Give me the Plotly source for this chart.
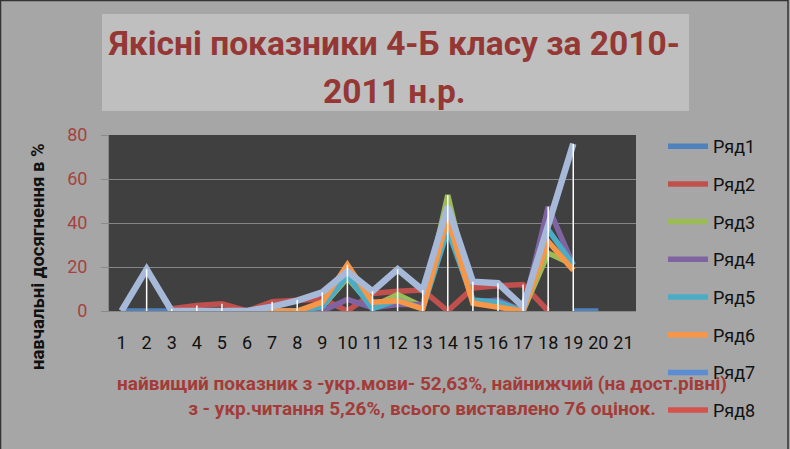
import plotly.graph_objects as go

# ---------------- data ----------------
categories = list(range(1, 22))
N = None
ryad1 = [0, 0, 0, N, N, N, N, N, N, N, N, N, N, N, N, N, N, N, 0, 0, N]
ryad2 = [N, N, 1, 2.5, 3.3, 0, 4.2, 5, 5.5, 0, 8, 9, 9.5, 0, 10.5, 11.5, 12, 0, N, N, N]
ryad3 = [N, N, 0, 0, 0, 0, 0, 0, 2, 15, 2, 7.5, 2, 52.63, 4, 3, 0, 26.32, 21, N, N]
ryad4 = [N, N, 0, 0, 0, 0, 0, 0, 0, 5.26, 1.5, 3, 3, 42, 4, 5, 0, 47.37, 21, N, N]
ryad5 = [N, N, 0, 0, 0, 0, 0, 0, 2, 16, 1, 5, 1, 36.84, 5, 4, 0, 36.84, 21, N, N]
ryad6 = [N, N, 0, 0, 0, 0, 0, 0, 4, 21.05, 4, 4.7, 1, 42.1, 3.5, 2, 0, 31.58, 18.5, N, N]
ryad7 = [N] * 21
ryad8 = [N] * 21
total = [0, 19, 0, 0, 0, 0, 2, 4.7, 8.5, 18, 9, 19, 9.5, 47.37, 13.3, 12.6, 2, 39, 76, N, N]

series_names = ["Ряд1", "Ряд2", "Ряд3", "Ряд4", "Ряд5", "Ряд6", "Ряд7", "Ряд8"]
series_values = [ryad1, ryad2, ryad3, ryad4, ryad5, ryad6, ryad7, ryad8]
series_colors = ["#4F81BD", "#C0504D", "#9BBB59", "#8064A2", "#4BACC6", "#F79646",
                 "#5B8DD3", "#D4524E"]
total_color = "#A7B9D9"

y_ticks = [0, 20, 40, 60, 80]

title_lines = ["Якісні показники 4-Б класу за 2010-", "2011 н.р."]
y_title = "навчальні досягнення в %"
note_text = ("найвищий показник з -укр.мови- 52,63%, найнижчий (на дост.рівні)<br>"
             "з - укр.читання 5,26%, всього виставлено 76 оцінок.")

# ---------------- geometry (pixels) ----------------
W_FIG, H_FIG = 790, 449
L, R, T, B = 109, 636, 135, 311


def pxx(x):
    return (x - L) / (R - L)


def pxy(y):
    return (B - y) / (B - T)


FONT = "Roboto, Open Sans, sans-serif"
DARK_RED = "#953735"

fig = go.Figure()

for name, vals, col in zip(series_names, series_values, series_colors):
    fig.add_trace(go.Scatter(
        x=categories, y=vals, name=name, mode="lines",
        line=dict(color=col, width=5.5), connectgaps=False,
        legendgroup=name, hoverinfo="skip",
    ))

fig.add_trace(go.Scatter(
    x=categories, y=total, name="", mode="lines",
    line=dict(color=total_color, width=6.5), showlegend=False, hoverinfo="skip",
))

# drop lines from the highest point of each category down to the axis
all_series = series_values + [total]
dx, dy = [], []
for i, c in enumerate(categories):
    vals = [s[i] for s in all_series if s[i] is not None]
    if vals and max(vals) > 0:
        dx += [c, c, None]
        dy += [0, max(vals), None]
fig.add_trace(go.Scatter(
    x=dx, y=dy, mode="lines", line=dict(color="white", width=1.5),
    showlegend=False, hoverinfo="skip",
))

shapes = [
    dict(type="rect", xref="paper", yref="paper",
         x0=pxx(102), x1=pxx(689), y0=pxy(111), y1=pxy(14),
         fillcolor="#BFBFBF", line=dict(width=0), layer="below"),
    dict(type="rect", xref="paper", yref="paper",
         x0=pxx(0.5), x1=pxx(788), y0=pxy(452), y1=pxy(0.5),
         fillcolor="rgba(0,0,0,0)", line=dict(color="#333333", width=1.5)),
]

annotations = [
    dict(text=title_lines[0], x=pxx(394), y=pxy(43), xref="paper", yref="paper",
         showarrow=False, xanchor="center", yanchor="middle",
         font=dict(family=FONT, size=33.5, color=DARK_RED, weight="bold")),
    dict(text=title_lines[1], x=pxx(394), y=pxy(91), xref="paper", yref="paper",
         showarrow=False, xanchor="center", yanchor="middle",
         font=dict(family=FONT, size=33.5, color=DARK_RED, weight="bold")),
    dict(text=y_title, x=pxx(38), y=pxy(257), xref="paper", yref="paper",
         showarrow=False, textangle=-90, xanchor="center", yanchor="middle",
         font=dict(family=FONT, size=18.5, color="#111111", weight="bold")),
    dict(text=note_text, x=pxx(422), y=pxy(396), xref="paper", yref="paper",
         showarrow=False, xanchor="center", yanchor="middle", align="center",
         font=dict(family=FONT, size=19, color="#A33B39", weight="bold")),
]

fig.update_layout(
    width=W_FIG, height=H_FIG,
    margin=dict(l=L, r=W_FIG - R, t=T, b=H_FIG - B, pad=0, autoexpand=False),
    paper_bgcolor="#A6A6A6", plot_bgcolor="#404040",
    shapes=shapes, annotations=annotations,
    showlegend=True,
    legend=dict(
        xref="container", yref="container",
        x=663 / W_FIG, y=1 - 128 / H_FIG, xanchor="left", yanchor="top",
        bgcolor="rgba(0,0,0,0)", borderwidth=0,
        font=dict(family=FONT, size=18, color="#111111"),
        tracegroupgap=11.3, itemwidth=40, maxheight=1,
    ),
    xaxis=dict(
        range=[0.5, 21.5], tickvals=categories, ticktext=[str(c) for c in categories],
        showgrid=False, zeroline=False, showline=True, linecolor="#8A8A8A", linewidth=1,
        ticks="", tickfont=dict(family=FONT, size=18, color="#111111"),
        ticklabelstandoff=15,
    ),
    yaxis=dict(
        range=[0, 80], tickvals=y_ticks, showgrid=True, gridcolor="#868686", gridwidth=1,
        zeroline=False, showline=True, linecolor="#8A8A8A", linewidth=1,
        ticks="outside", ticklen=7, tickcolor="#8A8A8A",
        tickfont=dict(family=FONT, size=18, color="#A5423F"),
        ticklabelstandoff=10,
    ),
)

fig.write_html(
    "out.html",
    config={"displayModeBar": False},
    post_script="document.body.style.margin='0';document.body.style.overflow='hidden';",
)
